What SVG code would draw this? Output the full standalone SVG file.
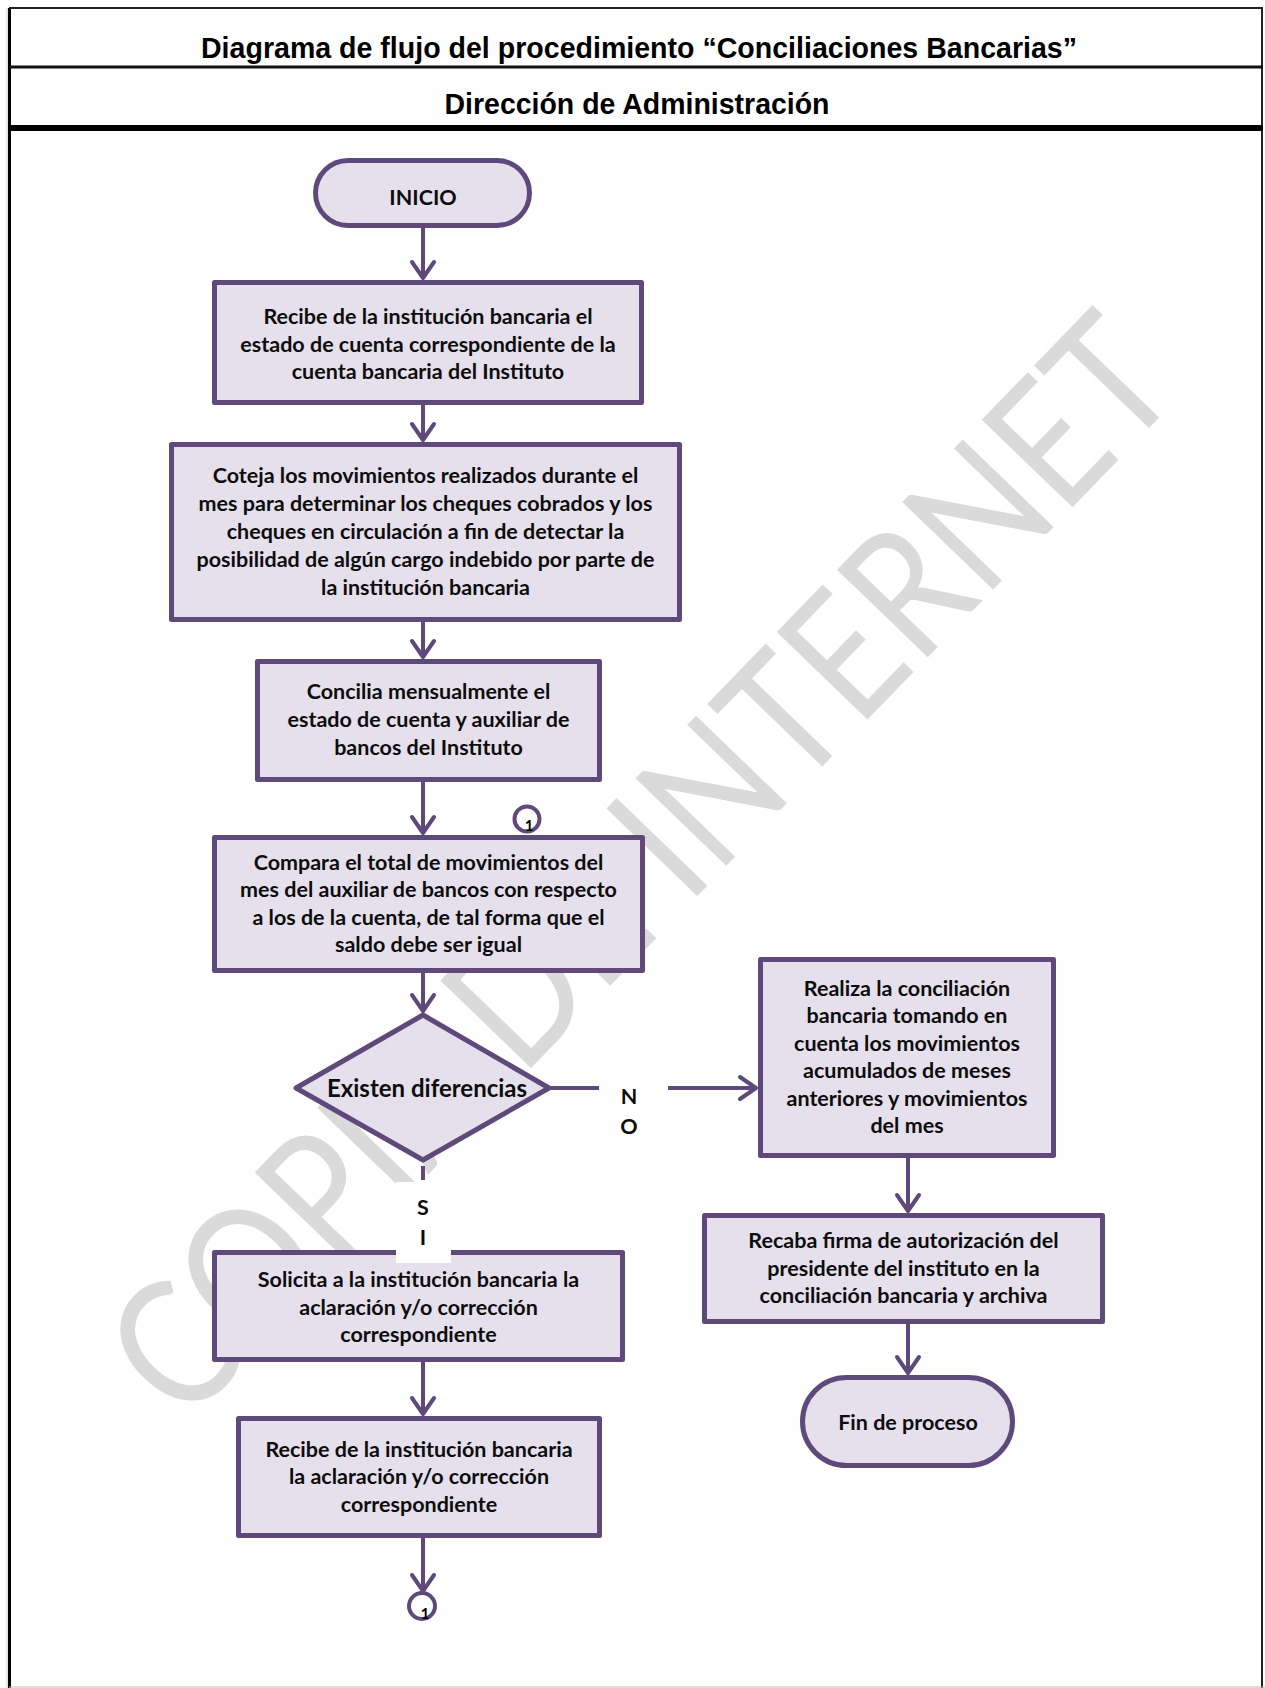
<svg xmlns="http://www.w3.org/2000/svg" width="1265" height="1688" viewBox="0 0 1265 1688">
  <defs>
    <style>
      .frame { stroke:#111; fill:none; }
      .title { font-family:"Liberation Sans", Arial, sans-serif; font-weight:700; font-size:29px; fill:#000; text-anchor:middle; }
      .wm { font-family:Lato, "Liberation Sans", sans-serif; font-weight:400; font-size:176px; fill:#DADADA; text-anchor:middle; }
      .box { fill:#E5E0EC; stroke:#5F497A; stroke-width:5; stroke-linejoin:round; }
      .lbl { font-family:Lato, "Liberation Sans", sans-serif; font-weight:700; font-size:21.5px; fill:#0d0d0d; text-anchor:middle; }
      .big { font-size:24px; }
      .conn { stroke:#5F497A; stroke-width:4; fill:none; }
      .ref { fill:#fff; stroke:#5F497A; stroke-width:4; }
      .refnum { font-family:Lato, "Liberation Sans", sans-serif; font-weight:700; font-size:15px; fill:#000; text-anchor:middle; }
    </style>
    <marker id="open-arrow" markerUnits="userSpaceOnUse" markerWidth="30" markerHeight="30" refX="0" refY="0" orient="auto" overflow="visible">
      <path d="M -16 -11 L 0 0 L -16 11" fill="none" stroke="#5F497A" stroke-width="4" stroke-linejoin="round" stroke-linecap="round"/>
    </marker>
  </defs>

  <rect x="0" y="0" width="1265" height="1688" fill="#fff"/>

  <!-- page frame and heading bands -->
  <g id="frame">
    <line x1="7" y1="8" x2="7" y2="1688" stroke="#ccc" stroke-width="1"/>
    <line x1="9.5" y1="8" x2="9.5" y2="1688" stroke="#000" stroke-width="3"/>
    <line x1="1262" y1="8" x2="1262" y2="1688" stroke="#222" stroke-width="2"/>
    <line x1="9" y1="8" x2="1263" y2="8" stroke="#222" stroke-width="2"/>
    <line x1="9" y1="67" x2="1263" y2="67" stroke="#111" stroke-width="3"/>
    <line x1="9" y1="128" x2="1263" y2="128" stroke="#000" stroke-width="6"/>
    <line x1="9" y1="1687" x2="1265" y2="1687" stroke="#bbb" stroke-width="1"/>
    <text class="title" x="639" y="58" textLength="876" lengthAdjust="spacingAndGlyphs">Diagrama de flujo del procedimiento “Conciliaciones Bancarias”</text>
    <text class="title" x="637" y="114" textLength="385" lengthAdjust="spacingAndGlyphs">Dirección de Administración</text>
  </g>

  <!-- diagonal watermark -->
  <g id="watermark" transform="translate(640 866) rotate(-46)">
    <text class="wm" x="0" y="62" textLength="1440" lengthAdjust="spacingAndGlyphs">COPIA DE INTERNET</text>
  </g>

  <!-- connectors -->
  <g id="connectors">
    <line class="conn" x1="423" y1="228" x2="423" y2="278" marker-end="url(#open-arrow)"/>
    <line class="conn" x1="423" y1="390" x2="423" y2="440" marker-end="url(#open-arrow)"/>
    <line class="conn" x1="423" y1="606" x2="423" y2="657" marker-end="url(#open-arrow)"/>
    <line class="conn" x1="423" y1="770" x2="423" y2="833" marker-end="url(#open-arrow)"/>
    <line class="conn" x1="423" y1="958" x2="423" y2="1011" marker-end="url(#open-arrow)"/>
    <line class="conn" x1="551" y1="1088" x2="599" y2="1088"/>
    <line class="conn" x1="668" y1="1088" x2="756" y2="1088" marker-end="url(#open-arrow)"/>
    <line class="conn" x1="423" y1="1166" x2="423" y2="1180"/>
    <line class="conn" x1="908" y1="1150" x2="908" y2="1211" marker-end="url(#open-arrow)"/>
    <line class="conn" x1="908" y1="1318" x2="908" y2="1373" marker-end="url(#open-arrow)"/>
    <line class="conn" x1="423" y1="1355" x2="423" y2="1414" marker-end="url(#open-arrow)"/>
    <line class="conn" x1="423" y1="1530" x2="423" y2="1591" marker-end="url(#open-arrow)"/>
  </g>

  <g id="inicio">
    <rect class="box" x="315.5" y="160.5" width="214" height="65" rx="32.5"/>
    <text class="lbl" x="423" y="205">INICIO</text>
  </g>

  <g id="recibe-estado">
    <rect class="box" x="214.5" y="282.5" width="427" height="120"/>
    <text class="lbl" x="428" y="324">Recibe de la institución bancaria el</text>
    <text class="lbl" x="428" y="352">estado de cuenta correspondiente de la</text>
    <text class="lbl" x="428" y="379">cuenta bancaria del Instituto</text>
  </g>

  <g id="coteja">
    <rect class="box" x="171.5" y="444.5" width="508" height="175"/>
    <text class="lbl" x="425.5" y="483">Coteja los movimientos realizados durante el</text>
    <text class="lbl" x="425.5" y="511">mes para determinar los cheques cobrados y los</text>
    <text class="lbl" x="425.5" y="539">cheques en circulación a fin de detectar la</text>
    <text class="lbl" x="425.5" y="567">posibilidad de algún cargo indebido por parte de</text>
    <text class="lbl" x="425.5" y="595">la institución bancaria</text>
  </g>

  <g id="concilia">
    <rect class="box" x="257.5" y="661.5" width="342" height="118"/>
    <text class="lbl" x="428.5" y="699">Concilia mensualmente el</text>
    <text class="lbl" x="428.5" y="727">estado de cuenta y auxiliar de</text>
    <text class="lbl" x="428.5" y="755">bancos del Instituto</text>
  </g>

  <g id="compara">
    <rect class="box" x="214.5" y="837.5" width="428" height="133"/>
    <text class="lbl" x="428.5" y="870">Compara el total de movimientos del</text>
    <text class="lbl" x="428.5" y="897">mes del auxiliar de bancos con respecto</text>
    <text class="lbl" x="428.5" y="925">a los de la cuenta, de tal forma que el</text>
    <text class="lbl" x="428.5" y="952">saldo debe ser igual</text>
  </g>

  <g id="ref-in">
    <circle class="ref" cx="527" cy="819" r="12.5"/>
    <text class="refnum" x="529" y="831">1</text>
  </g>

  <g id="existen-diferencias">
    <polygon class="box" points="423,1015 549,1088 423,1160 296,1088"/>
    <text class="lbl big" x="427" y="1097">Existen diferencias</text>
  </g>

  <g id="label-no">
    <text class="lbl" x="629" y="1104">N</text>
    <text class="lbl" x="629" y="1134">O</text>
  </g>

  <g id="realiza">
    <rect class="box" x="760.5" y="959.5" width="293" height="196"/>
    <text class="lbl" x="907" y="996">Realiza la conciliación</text>
    <text class="lbl" x="907" y="1023">bancaria tomando en</text>
    <text class="lbl" x="907" y="1051">cuenta los movimientos</text>
    <text class="lbl" x="907" y="1078">acumulados de meses</text>
    <text class="lbl" x="907" y="1106">anteriores y movimientos</text>
    <text class="lbl" x="907" y="1133">del mes</text>
  </g>

  <g id="recaba-firma">
    <rect class="box" x="704.5" y="1215.5" width="398" height="106"/>
    <text class="lbl" x="903.5" y="1248">Recaba firma de autorización del</text>
    <text class="lbl" x="903.5" y="1276">presidente del instituto en la</text>
    <text class="lbl" x="903.5" y="1303">conciliación bancaria y archiva</text>
  </g>

  <g id="fin">
    <rect class="box" x="802.5" y="1377.5" width="210" height="88" rx="44"/>
    <text class="lbl" x="908" y="1430">Fin de proceso</text>
  </g>

  <g id="solicita">
    <rect class="box" x="214.5" y="1252.5" width="408" height="107"/>
    <text class="lbl" x="418.5" y="1287">Solicita a la institución bancaria la</text>
    <text class="lbl" x="418.5" y="1315">aclaración y/o corrección</text>
    <text class="lbl" x="418.5" y="1342">correspondiente</text>
  </g>

  <g id="label-si">
    <rect x="396" y="1182" width="55" height="81" fill="#fff"/>
    <text class="lbl" x="423" y="1215">S</text>
    <text class="lbl" x="423" y="1245">I</text>
  </g>

  <g id="recibe-aclaracion">
    <rect class="box" x="238.5" y="1418.5" width="361" height="117"/>
    <text class="lbl" x="419" y="1457">Recibe de la institución bancaria</text>
    <text class="lbl" x="419" y="1484">la aclaración y/o corrección</text>
    <text class="lbl" x="419" y="1512">correspondiente</text>
  </g>

  <g id="ref-out">
    <circle class="ref" cx="422" cy="1606" r="13"/>
    <text class="refnum" x="425" y="1619">1</text>
  </g>
</svg>
